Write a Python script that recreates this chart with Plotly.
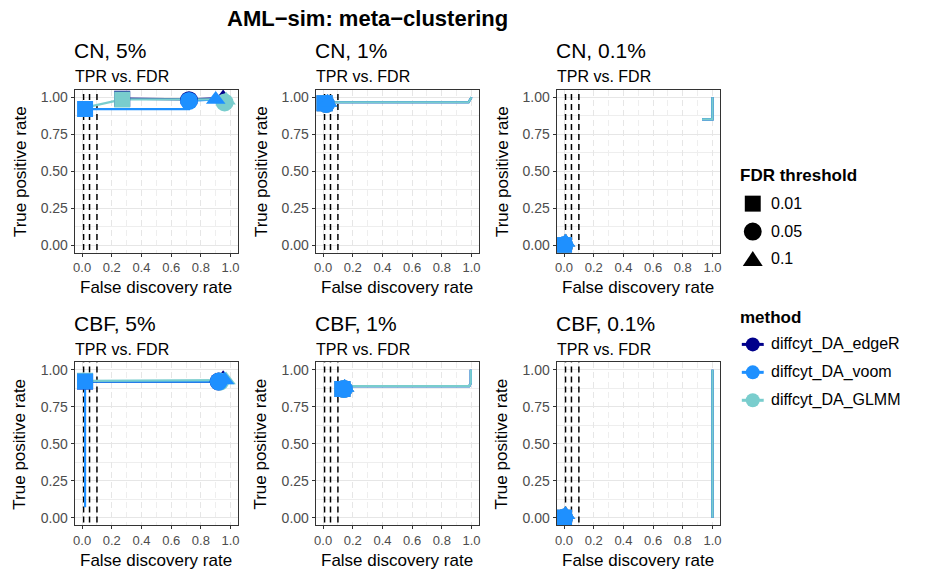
import plotly.graph_objects as go

W, H = 931, 570

methods = ["diffcyt_DA_edgeR", "diffcyt_DA_voom", "diffcyt_DA_GLMM"]
method_colors = ["#00008B", "#1E90FF", "#79CDCD"]
thresholds = [0.01, 0.05, 0.1]
threshold_labels = ["0.01", "0.05", "0.1"]
threshold_symbols = ["square", "circle", "triangle-up"]
panel_titles = ["CN, 5%", "CN, 1%", "CN, 0.1%", "CBF, 5%", "CBF, 1%", "CBF, 0.1%"]
x_ticks = [0.0, 0.2, 0.4, 0.6, 0.8, 1.0]
x_tick_text = ["0.0", "0.2", "0.4", "0.6", "0.8", "1.0"]
y_ticks = [0.0, 0.25, 0.5, 0.75, 1.0]
y_tick_text = ["0.00", "0.25", "0.50", "0.75", "1.00"]

# FDR-TPR curves, one list per method (edgeR, voom, GLMM)
curve_fdr_cn5 = [[0.27, 0.72, 0.95], [0.02, 0.72, 0.72, 0.90], [0.02, 0.27, 0.95, 0.96, 0.97]]
curve_tpr_cn5 = [[0.99, 0.985, 0.995], [0.92, 0.92, 0.975, 0.985], [0.93, 0.985, 0.985, 0.965, 0.98]]
curve_fdr_cn1 = [[0.01, 0.04, 0.98, 1.0], [0.01, 0.04, 0.98, 1.0], [0.01, 0.04, 0.98, 1.0]]
curve_tpr_cn1 = [[0.96, 0.966, 0.966, 1.0], [0.96, 0.966, 0.966, 1.0], [0.96, 0.966, 0.966, 1.0]]
curve_fdr_cn01 = [[0.93, 1.0, 1.0], [0.93, 1.0, 1.0], [0.93, 1.0, 1.0]]
curve_tpr_cn01 = [[0.85, 0.85, 1.0], [0.85, 0.85, 1.0], [0.85, 0.85, 1.0]]
curve_fdr_cbf5 = [[0.02, 0.92, 0.95], [0.02, 0.02, 0.92, 0.96], [0.02, 0.93, 0.97]]
curve_tpr_cbf5 = [[0.92, 0.92, 0.94], [0.07, 0.92, 0.92, 0.93], [0.925, 0.925, 0.93]]
curve_fdr_cbf1 = [[0.14, 0.985, 0.995, 0.995], [0.14, 0.985, 0.995, 0.995], [0.14, 0.985, 0.995, 0.995]]
curve_tpr_cbf1 = [[0.89, 0.89, 0.91, 1.0], [0.89, 0.89, 0.91, 1.0], [0.89, 0.89, 0.91, 1.0]]
curve_fdr_cbf01 = [[1.0, 1.0], [1.0, 1.0], [1.0, 1.0]]
curve_tpr_cbf01 = [[0.0, 1.0], [0.0, 1.0], [0.0, 1.0]]

# observed (FDR, TPR) at the 0.01 / 0.05 / 0.1 thresholds, per method
point_fdr_cn5 = [[0.27, 0.72, 0.95], [0.02, 0.72, 0.90], [0.27, 0.96, 0.97]]
point_tpr_cn5 = [[0.99, 0.98, 0.995], [0.92, 0.975, 0.985], [0.985, 0.965, 0.98]]
point_fdr_cn1 = [[0.01, 0.02, 0.03], [0.01, 0.02, 0.03], [0.01, 0.02, 0.03]]
point_tpr_cn1 = [[0.96, 0.955, 0.965], [0.96, 0.955, 0.965], [0.96, 0.955, 0.965]]
point_fdr_cn01 = [[0.0, 0.0, 0.01], [0.0, 0.0, 0.01], [0.0, 0.0, 0.01]]
point_tpr_cn01 = [[0.0, 0.0, 0.02], [0.0, 0.0, 0.02], [0.0, 0.0, 0.02]]
point_fdr_cbf5 = [[0.02, 0.92, 0.95], [0.02, 0.92, 0.96], [0.02, 0.93, 0.97]]
point_tpr_cbf5 = [[0.92, 0.92, 0.94], [0.92, 0.92, 0.93], [0.925, 0.92, 0.93]]
point_fdr_cbf1 = [[0.13, 0.14, 0.145], [0.13, 0.14, 0.145], [0.13, 0.14, 0.145]]
point_tpr_cbf1 = [[0.87, 0.87, 0.88], [0.87, 0.87, 0.88], [0.87, 0.87, 0.88]]
point_fdr_cbf01 = [[0.0, 0.0, 0.01], [0.0, 0.0, 0.01], [0.0, 0.0, 0.01]]
point_tpr_cbf01 = [[0.0, 0.0, 0.02], [0.0, 0.0, 0.02], [0.0, 0.0, 0.02]]

curves_fdr = [curve_fdr_cn5, curve_fdr_cn1, curve_fdr_cn01, curve_fdr_cbf5, curve_fdr_cbf1, curve_fdr_cbf01]
curves_tpr = [curve_tpr_cn5, curve_tpr_cn1, curve_tpr_cn01, curve_tpr_cbf5, curve_tpr_cbf1, curve_tpr_cbf01]
points_fdr = [point_fdr_cn5, point_fdr_cn1, point_fdr_cn01, point_fdr_cbf5, point_fdr_cbf1, point_fdr_cbf01]
points_tpr = [point_tpr_cn5, point_tpr_cn1, point_tpr_cn01, point_tpr_cbf5, point_tpr_cbf1, point_tpr_cbf01]

FONT = "Liberation Sans, Arial, sans-serif"
marker_sizes = [16, 18, 17]

# panel geometry in pixels
col_left = [73, 315, 557]
panel_w = 164
row_top = [89, 362]
panel_h = 163


def fx(p):
    return p / W


def fy(p):
    return 1 - p / H


fig = go.Figure()
layout = dict(
    width=W, height=H, margin=dict(l=0, r=0, t=0, b=0),
    paper_bgcolor="white", plot_bgcolor="white", showlegend=False,
    font=dict(family=FONT, color="black"),
)
shapes = []
annotations = []

for i in range(6):
    r, c = divmod(i, 3)
    xa = "x" if i == 0 else f"x{i+1}"
    ya = "y" if i == 0 else f"y{i+1}"
    xkey = "xaxis" if i == 0 else f"xaxis{i+1}"
    ykey = "yaxis" if i == 0 else f"yaxis{i+1}"
    left, top = col_left[c], row_top[r]
    layout[xkey] = dict(
        domain=[fx(left), fx(left + panel_w)], anchor=ya, range=[-0.05, 1.05],
        tickvals=x_ticks, ticktext=x_tick_text, ticks="outside", ticklen=3,
        tickcolor="#333333", tickfont=dict(size=13, color="#4D4D4D"),
        showgrid=True, gridcolor="#E6E6E6", gridwidth=1, griddash="6px,4px",
        minor=dict(tickvals=[0.1, 0.3, 0.5, 0.7, 0.9], showgrid=True,
                   gridcolor="#EEEEEE", gridwidth=1, griddash="6px,4px", ticks=""),
        showline=True, mirror=True, linecolor="#333333", linewidth=1,
        zeroline=False, fixedrange=True,
    )
    layout[ykey] = dict(
        domain=[fy(top + panel_h), fy(top)], anchor=xa, range=[-0.05, 1.05],
        tickvals=y_ticks, ticktext=y_tick_text, ticks="outside", ticklen=3,
        tickcolor="#333333", tickfont=dict(size=14, color="#4D4D4D"),
        showgrid=True, gridcolor="#E6E6E6", gridwidth=1,
        minor=dict(tickvals=[0.125, 0.375, 0.625, 0.875], showgrid=True,
                   gridcolor="#EEEEEE", gridwidth=1, ticks=""),
        showline=True, mirror=True, linecolor="#333333", linewidth=1,
        zeroline=False, fixedrange=True,
    )

    # threshold reference lines
    for t in thresholds:
        fig.add_trace(go.Scatter(
            x=[t, t], y=[-0.1, 1.1], mode="lines",
            line=dict(color="black", width=1.5, dash="6px,4px"),
            xaxis=xa, yaxis=ya, hoverinfo="skip",
        ))

    # curves
    for m in range(3):
        fig.add_trace(go.Scatter(
            x=curves_fdr[i][m], y=curves_tpr[i][m], mode="lines",
            line=dict(color=method_colors[m], width=2.2), xaxis=xa, yaxis=ya,
            hoverinfo="skip",
        ))
    # threshold points (edgeR, GLMM, voom drawing order)
    for m in [0, 2, 1]:
        fig.add_trace(go.Scatter(
            x=points_fdr[i][m], y=points_tpr[i][m], mode="markers",
            marker=dict(color=method_colors[m], symbol=threshold_symbols,
                        size=marker_sizes, opacity=1, line=dict(width=0)),
            xaxis=xa, yaxis=ya, name=methods[m],
        ))

    # panel titles
    annotations.append(dict(text=panel_titles[i], x=fx(left - 3), y=fy(top - 39), xref="paper", yref="paper",
                            xanchor="left", yanchor="middle", showarrow=False, font=dict(size=21)))
    annotations.append(dict(text="TPR vs. FDR", x=fx(left - 2), y=fy(top - 13), xref="paper", yref="paper",
                            xanchor="left", yanchor="middle", showarrow=False, font=dict(size=16)))
    # axis titles
    annotations.append(dict(text="False discovery rate", x=fx(left + panel_w / 2), y=fy(top + panel_h + 35),
                            xref="paper", yref="paper", xanchor="center", yanchor="middle",
                            showarrow=False, font=dict(size=17)))
    annotations.append(dict(text="True positive rate", x=fx(left - 55), y=fy(top + panel_h / 2),
                            xref="paper", yref="paper", xanchor="center", yanchor="middle",
                            textangle=-90, showarrow=False, font=dict(size=17)))

# main title
annotations.append(dict(text="<b>AML\u2212sim: meta\u2212clustering</b>", x=fx(367), y=fy(18),
                        xref="paper", yref="paper", xanchor="center", yanchor="middle",
                        showarrow=False, font=dict(size=22)))

# legend: FDR threshold shapes
annotations.append(dict(text="<b>FDR threshold</b>", x=fx(739), y=fy(175), xref="paper", yref="paper",
                        xanchor="left", yanchor="middle", showarrow=False, font=dict(size=17)))
leg_y = [203, 231, 258]
shapes.append(dict(type="rect", xref="paper", yref="paper", x0=fx(746), x1=fx(762),
                   y0=fy(leg_y[0] + 8), y1=fy(leg_y[0] - 8), fillcolor="black", line=dict(width=0)))
shapes.append(dict(type="circle", xref="paper", yref="paper", x0=fx(745), x1=fx(763),
                   y0=fy(leg_y[1] + 9), y1=fy(leg_y[1] - 9), fillcolor="black", line=dict(width=0)))
tri = f"M {fx(744)},{fy(leg_y[2] + 7.5)} L {fx(764)},{fy(leg_y[2] + 7.5)} L {fx(754)},{fy(leg_y[2] - 7.5)} Z"
shapes.append(dict(type="path", xref="paper", yref="paper", path=tri, fillcolor="black", line=dict(width=0)))
for k, lab in enumerate(threshold_labels):
    annotations.append(dict(text=lab, x=fx(770), y=fy(leg_y[k]), xref="paper", yref="paper",
                            xanchor="left", yanchor="middle", showarrow=False, font=dict(size=16)))

# legend: method
annotations.append(dict(text="<b>method</b>", x=fx(739), y=fy(317), xref="paper", yref="paper",
                        xanchor="left", yanchor="middle", showarrow=False, font=dict(size=17)))
meth_y = [344, 372, 400]
for k, name in enumerate(methods):
    yy = meth_y[k]
    shapes.append(dict(type="line", xref="paper", yref="paper", x0=fx(743), x1=fx(765), y0=fy(yy), y1=fy(yy),
                       line=dict(color=method_colors[k], width=3)))
    shapes.append(dict(type="circle", xref="paper", yref="paper", x0=fx(747), x1=fx(761),
                       y0=fy(yy + 7), y1=fy(yy - 7), fillcolor=method_colors[k], line=dict(width=0)))
    annotations.append(dict(text=name, x=fx(770), y=fy(yy), xref="paper", yref="paper",
                            xanchor="left", yanchor="middle", showarrow=False, font=dict(size=16)))

layout["shapes"] = shapes
layout["annotations"] = annotations
fig.update_layout(**layout)
fig.write_html("out.html")
